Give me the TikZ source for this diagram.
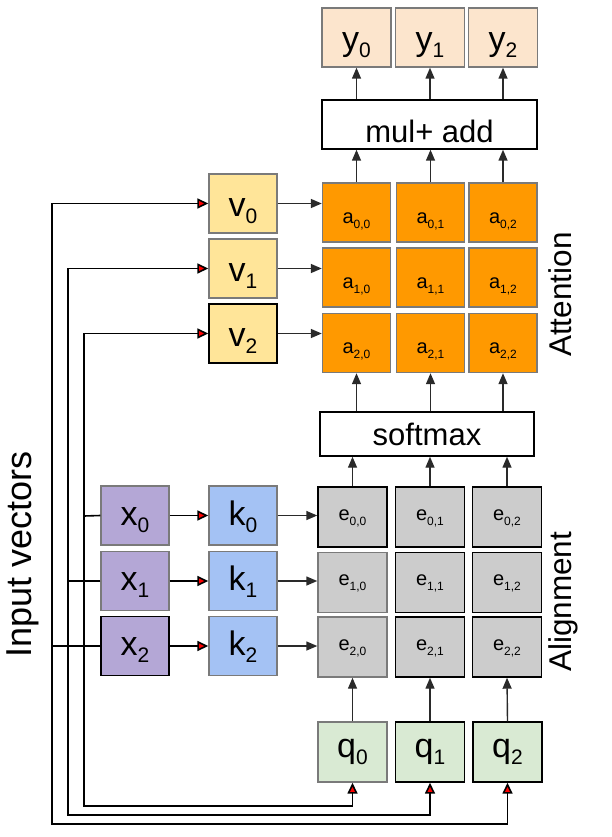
\documentclass[tikz,border=0pt]{standalone}
\usepackage{fontspec}
\setmainfont{Liberation Sans}
\usetikzlibrary{arrows.meta}
\definecolor{ypeach}{HTML}{FCE5CD}
\definecolor{vyel}{HTML}{FFE599}
\definecolor{aor}{HTML}{FF9900}
\definecolor{egray}{HTML}{CCCCCC}
\definecolor{xpur}{HTML}{B4A7D6}
\definecolor{kblue}{HTML}{A4C2F4}
\definecolor{qgreen}{HTML}{D9EAD3}
\definecolor{bgray}{HTML}{7A7A7A}
\definecolor{lgray}{HTML}{2A2A2A}
\newcommand\bsub[1]{\raisebox{-7pt}{\fontsize{21pt}{21pt}\selectfont #1}}
\newcommand\ssub[1]{\raisebox{-5pt}{\fontsize{12pt}{12pt}\selectfont #1}}
\tikzset{
  box/.style={draw=bgray, line width=1.4pt, minimum width=68pt, minimum height=59pt, inner sep=0pt, text depth=0pt},
  blk/.style={draw=black},
  bigt/.style={font=\fontsize{34pt}{34pt}\selectfont},
  smallt/.style={font=\fontsize{20pt}{20pt}\selectfont},
  th/.style={text height=#1},
  arr/.style={draw=lgray, line width=1.4pt, -{Triangle[length=11pt,width=9pt]}},
  rarr/.style={draw=black, line width=1.6pt, -{Triangle[length=11pt,width=10pt,fill=red]}},
  route/.style={draw=black, line width=1.6pt},
  lbl/.style={rotate=90, anchor=base west, inner sep=0pt}
}
\begin{document}
\begin{tikzpicture}[x=1pt,y=-1pt]
\useasboundingbox (0,0) rectangle (611,837);
% outputs
\node[box, fill=ypeach, bigt, th=26pt, minimum width=69pt] (y0) at (356.5,37.5) {y\bsub{0}};
\node[box, fill=ypeach, bigt, th=26pt, minimum width=69pt] (y1) at (430,37.5) {y\bsub{1}};
\node[box, fill=ypeach, bigt, th=26pt, minimum width=69pt] (y2) at (503,37.5) {y\bsub{2}};
\node[box, blk, fill=white, minimum width=215pt, minimum height=49pt, font=\fontsize{31pt}{31pt}\selectfont, th=36pt] (mul) at (429.5,124.5) {mul+ add};
% attention
\foreach \r/\yy in {0/212.5,1/277.5,2/343}{
  \node[box, fill=aor, smallt, th=21pt] (a\r0) at (356.5,\yy) {a\ssub{\r,0}};
  \node[box, fill=aor, smallt, th=21pt] (a\r1) at (430.5,\yy) {a\ssub{\r,1}};
  \node[box, fill=aor, smallt, th=21pt] (a\r2) at (503,\yy) {a\ssub{\r,2}};
}
\node[box, blk, fill=white, minimum width=214pt, minimum height=44pt, font=\fontsize{31pt}{31pt}\selectfont, th=22pt] (sm) at (427,434) {softmax};
% alignment
\node[box, blk, fill=egray, smallt, th=6pt, minimum height=60pt, minimum width=69pt] (e00) at (352.5,517) {e\ssub{0,0}};
\node[box, blk, fill=egray, smallt, th=6pt, minimum height=60pt, minimum width=69pt] (e01) at (430,517) {e\ssub{0,1}};
\node[box, blk, fill=egray, smallt, th=6pt, minimum height=60pt, minimum width=69pt] (e02) at (507,517) {e\ssub{0,2}};
\node[box, fill=egray, smallt, th=6pt, minimum height=60pt, minimum width=69pt] (e10) at (352.5,582.5) {e\ssub{1,0}};
\node[box, blk, fill=egray, smallt, th=6pt, minimum height=60pt, minimum width=69pt] (e11) at (430,582.5) {e\ssub{1,1}};
\node[box, blk, fill=egray, smallt, th=6pt, minimum height=60pt, minimum width=69pt] (e12) at (507,582.5) {e\ssub{1,2}};
\node[box, fill=egray, smallt, th=6pt, minimum height=60pt, minimum width=69pt] (e20) at (352.5,647) {e\ssub{2,0}};
\node[box, blk, fill=egray, smallt, th=6pt, minimum height=60pt, minimum width=69pt] (e21) at (430,647) {e\ssub{2,1}};
\node[box, blk, fill=egray, smallt, th=6pt, minimum height=60pt, minimum width=69pt] (e22) at (507,647) {e\ssub{2,2}};
% queries
\node[box, fill=qgreen, bigt, th=10pt, minimum height=60pt, minimum width=69pt] (q0) at (352.5,752) {q\bsub{0}};
\node[box, blk, fill=qgreen, bigt, th=10pt, minimum height=60pt, minimum width=69pt] (q1) at (430,752) {q\bsub{1}};
\node[box, blk, fill=qgreen, bigt, th=10pt, minimum height=60pt, minimum width=69pt] (q2) at (507.5,752) {q\bsub{2}};
% values
\node[box, fill=vyel, bigt, th=25pt] (v0) at (243,203.5) {v\bsub{0}};
\node[box, fill=vyel, bigt, th=25pt] (v1) at (243,268.5) {v\bsub{1}};
\node[box, blk, fill=vyel, bigt, th=25pt] (v2) at (243,333.5) {v\bsub{2}};
% inputs and keys
\node[box, fill=xpur, bigt, th=19pt] (x0) at (135,515.5) {x\bsub{0}};
\node[box, fill=xpur, bigt, th=19pt] (x1) at (135,581) {x\bsub{1}};
\node[box, blk, fill=xpur, bigt, th=19pt] (x2) at (135,646) {x\bsub{2}};
\node[box, fill=kblue, bigt, th=19pt] (k0) at (243,515.5) {k\bsub{0}};
\node[box, fill=kblue, bigt, th=19pt] (k1) at (243,581) {k\bsub{1}};
\node[box, fill=kblue, bigt, th=19pt] (k2) at (243,646) {k\bsub{2}};
% labels
\node[lbl, font=\fontsize{36pt}{36pt}\selectfont] (lin) at (31,658) {Input vectors};
\node[lbl, font=\fontsize{31.5pt}{31.5pt}\selectfont] (lat) at (571,357) {Attention};
\node[lbl, font=\fontsize{31.5pt}{31.5pt}\selectfont] (lal) at (571,672) {Alignment};
% routing coordinates
\coordinate (L0) at (84,516);
\coordinate (L1) at (68,581);
\coordinate (L2) at (52,646);
\coordinate (B0) at (84,806);
\coordinate (B1) at (68,815);
\coordinate (B2) at (52,824);
% input routing
\draw[route] (x0.west) -- (L0);
\draw[route] (x1.west) -- (L1);
\draw[route] (x2.west) -- (L2);
\draw[rarr] (L0) |- (v2.west);
\draw[rarr] (L1) |- (v1.west);
\draw[rarr] (L2) |- (v0.west);
\draw[rarr] (L0) -- (B0) -| (q0.south);
\draw[rarr] (L1) -- (B1) -| (q1.south);
\draw[rarr] (L2) -- (B2) -| (q2.south);
\draw[rarr] (x0.east) -- (k0.west);
\draw[rarr] (x1.east) -- (k1.west);
\draw[rarr] (x2.east) -- (k2.west);
% values to attention, keys to alignment
\draw[arr] (v0.east) -- (v0.east -| a00.west);
\draw[arr] (v1.east) -- (v1.east -| a10.west);
\draw[arr] (v2.east) -- (v2.east -| a20.west);
\draw[arr] (k0.east) -- (k0.east -| e00.west);
\draw[arr] (k1.east) -- (k1.east -| e10.west);
\draw[arr] (k2.east) -- (k2.east -| e20.west);
% vertical flow
\foreach \j in {0,1,2}{
  \draw[arr] (q\j.north) -- (e2\j.south);
  \draw[arr] (e0\j.north) -- (e0\j.north |- sm.south);
  \draw[arr] (sm.north -| a2\j.south) -- (a2\j.south);
  \draw[arr] (a0\j.north) -- (a0\j.north |- mul.south);
  \draw[arr] (mul.north -| y\j.south) -- (y\j.south);
}
\end{tikzpicture}
\end{document}
